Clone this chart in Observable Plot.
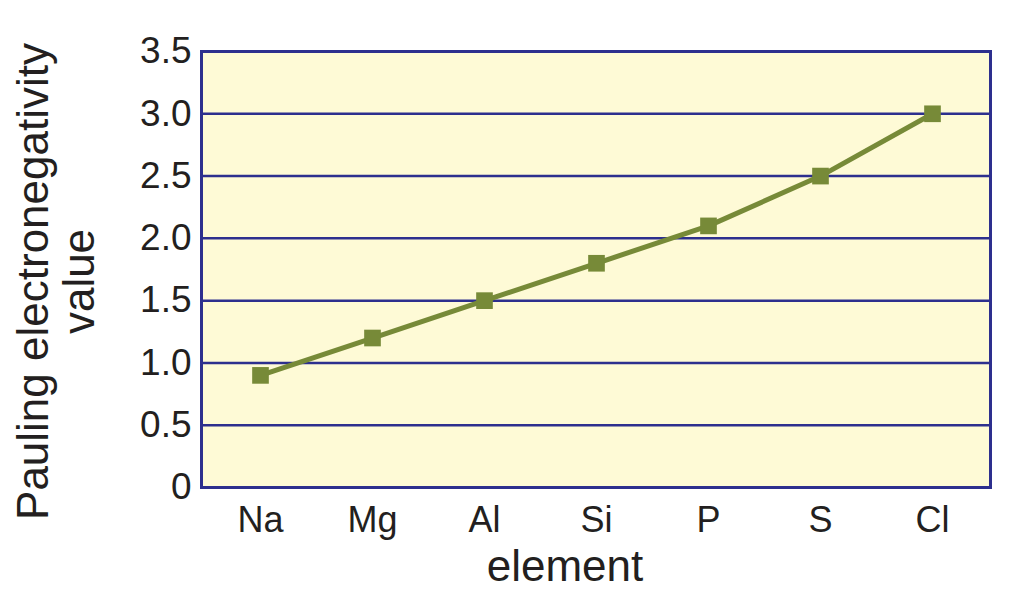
<!DOCTYPE html>
<html>
<head>
<meta charset="utf-8">
<script src="https://cdn.jsdelivr.net/npm/d3@7"></script>
<script src="https://cdn.jsdelivr.net/npm/@observablehq/plot@0.6"></script>
<style>
  html, body { margin: 0; padding: 0; background: #ffffff; }
  #chart svg { display: block; }
</style>
</head>
<body>
<div id="chart"></div>
<script>
const elements = ["Na", "Mg", "Al", "Si", "P", "S", "Cl"];
const electronegativity = [0.9, 1.2, 1.5, 1.8, 2.1, 2.5, 3.0];
const yTicks = [0, 0.5, 1.0, 1.5, 2.0, 2.5, 3.0, 3.5];
const gridValues = [0.5, 1.0, 1.5, 2.0, 2.5, 3.0];
const xTitle = "element";
const yTitle = "Pauling electronegativity\nvalue";

const data = elements.map((e, i) => ({element: e, value: electronegativity[i]}));

const navy = "#2d2f8e";
const green = "#778a38";
const ink = "#231f20";
const font = "'Liberation Sans', Arial, sans-serif";

const chart = Plot.plot({
  width: 1015,
  height: 592,
  marginLeft: 201,
  marginRight: 25,
  marginTop: 51,
  marginBottom: 105,
  style: {fontFamily: font, color: ink, background: "#ffffff"},
  x: {type: "point", domain: elements, padding: 0.5},
  y: {domain: [0, 3.5]},
  marks: [
    Plot.frame({fill: "#fefad6", stroke: "none"}),
    Plot.ruleY(gridValues, {stroke: navy, strokeWidth: 2.5}),
    Plot.frame({stroke: navy, strokeWidth: 3}),
    Plot.axisY({
      ticks: yTicks,
      tickSize: 0,
      tickPadding: 10,
      fontSize: 37,
      fill: ink,
      label: null,
      tickFormat: d => d === 0 ? "0" : d.toFixed(1)
    }),
    Plot.axisX({
      tickSize: 0,
      tickPadding: 19,
      fontSize: 36,
      fill: ink,
      label: null
    }),
    Plot.line(data, {x: "element", y: "value", stroke: green, strokeWidth: 5}),
    Plot.dot(data, {x: "element", y: "value", symbol: "square", r: 9.4, fill: green, stroke: "none"}),
    Plot.text([xTitle], {
      frameAnchor: "bottom",
      text: d => d,
      lineAnchor: "bottom",
      dx: -31,
      dy: 93,
      fontSize: 44,
      fill: ink
    }),
    Plot.text([yTitle], {
      frameAnchor: "left",
      text: d => d,
      rotate: -90,
      textAnchor: "middle",
      lineAnchor: "middle",
      lineHeight: 1.03,
      dx: -145,
      dy: 12,
      fontSize: 44,
      fill: ink
    })
  ]
});

document.getElementById("chart").appendChild(chart);
</script>
</body>
</html>
